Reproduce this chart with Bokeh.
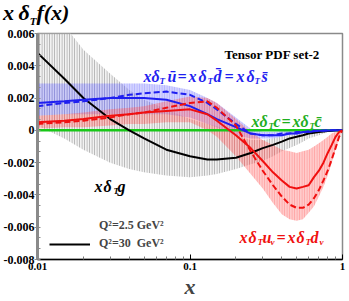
import numpy as np
from bokeh.plotting import figure
from bokeh.layouts import column
from bokeh.models import Label, Legend, LegendItem, FixedTicker, NumeralTickFormatter, Range1d, Div
from bokeh.embed import file_html
from bokeh.resources import INLINE

# ---- data ----
x = [0.01, 0.015, 0.02, 0.03, 0.04, 0.05, 0.07, 0.1, 0.13, 0.15, 0.2, 0.25, 0.3, 0.35,
     0.4, 0.45, 0.5, 0.55, 0.6, 0.65, 0.7, 0.75, 0.8, 0.85, 0.9, 0.95, 1.0]

gluon_30 = [0.0048, 0.0032, 0.0020, 0.0007, 0.0, -0.0005, -0.0012, -0.0016, -0.0018, -0.0018,
            -0.0017, -0.0014, -0.0011, -0.0009, -0.0007, -0.0005, -0.0004, -0.0003, -0.0002,
            -0.00015, -0.0001, -0.00007, -0.00004, -0.00002, 0.0, 0.0, 0.0]
gluon_hi = [0.0095, 0.0065, 0.0050, 0.0035, 0.0025, 0.0019, 0.0013, 0.0007, 0.0004, 0.00025,
            -0.0003, -0.0006, -0.0006, -0.0005, -0.0004, -0.0003, -0.0002, -0.00015, -0.0001,
            -0.00007, -0.00005, -0.00003, -0.00002, -0.00001, 0.0, 0.0, 0.0]
gluon_lo = [0.0003, -0.0005, -0.0012, -0.0020, -0.0024, -0.0026, -0.0028, -0.0029, -0.0028,
            -0.0027, -0.0024, -0.0021, -0.0019, -0.0016, -0.0013, -0.0011, -0.0009, -0.0007,
            -0.0005, -0.0004, -0.0003, -0.0002, -0.0001, -0.00005, 0.0, 0.0, 0.0]

sea_30 = [0.0017, 0.0018, 0.0019, 0.0020, 0.0020, 0.0020, 0.0019, 0.0015, 0.0010, 0.0007,
          0.0002, -0.0002, -0.0003, -0.0003, -0.0003, -0.0002, -0.0002, -0.0001, -0.0001,
          -0.00005, -0.00003, -0.00002, -0.00001, 0.0, 0.0, 0.0, 0.0]
sea_25 = [0.0015, 0.0017, 0.0018, 0.0020, 0.0022, 0.0023, 0.0024, 0.0022, 0.0017, 0.0013,
          0.0004, -0.0002, -0.0003, -0.0003, -0.0002, -0.0002, -0.0001, -0.0001, -0.00005,
          -0.00003, -0.00002, -0.00001, 0.0, 0.0, 0.0, 0.0, 0.0]
sea_hi = [0.0029, 0.0029, 0.0029, 0.0029, 0.0029, 0.0029, 0.0028, 0.0025, 0.0020, 0.0017,
          0.0008, 0.0001, -0.0001, -0.0001, -0.00005, -0.00003, -0.00002, -0.00001, 0.0,
          0.0, 0.0, 0.0, 0.0, 0.0, 0.0, 0.0, 0.0]
sea_lo = [0.0009, 0.0010, 0.0010, 0.0010, 0.0010, 0.0010, 0.0010, 0.0008, 0.0004, 0.0002,
          -0.0003, -0.0005, -0.0005, -0.0005, -0.0004, -0.0003, -0.0003, -0.0002, -0.0002,
          -0.0001, -0.0001, -0.00005, -0.00003, -0.00002, 0.0, 0.0, 0.0]

val_30 = [0.0005, 0.0006, 0.0007, 0.0009, 0.0010, 0.0011, 0.0012, 0.0013, 0.0010, 0.0006,
          -0.0003, -0.0011, -0.0019, -0.0026, -0.0031, -0.0035, -0.0036, -0.0035, -0.0034,
          -0.0029, -0.0025, -0.0020, -0.0014, -0.0009, -0.0004, -0.0001, 0.0]
val_25 = [0.0004, 0.0005, 0.0006, 0.0008, 0.0010, 0.0011, 0.0014, 0.0017, 0.0018, 0.0014,
          0.0003, -0.0013, -0.0025, -0.0034, -0.0041, -0.0046, -0.0048, -0.0048, -0.0046,
          -0.0042, -0.0037, -0.0031, -0.0025, -0.0018, -0.0011, -0.0004, 0.0]
val_hi = [0.0009, 0.0010, 0.0011, 0.0013, 0.0014, 0.0015, 0.0018, 0.0021, 0.0020, 0.0017,
          0.0007, -0.0001, -0.0006, -0.0009, -0.0012, -0.0013, -0.0014, -0.0013, -0.0012,
          -0.0010, -0.0008, -0.0006, -0.0004, -0.0002, -0.0001, 0.0, 0.0]
val_lo = [0.0001, 0.0002, 0.0002, 0.0003, 0.0004, 0.0004, 0.0005, 0.0005, 0.0000, -0.0004,
          -0.0016, -0.0027, -0.0036, -0.0045, -0.0052, -0.0055, -0.0056, -0.0055, -0.0051,
          -0.0047, -0.0041, -0.0035, -0.0028, -0.0020, -0.0012, -0.0005, 0.0]

charm_30 = [0.0] * len(x)

y_ticks = [-0.008, -0.006, -0.004, -0.002, 0.0, 0.002, 0.004, 0.006]
x_ticks = [0.01, 0.1, 1.0]
x_minor = [0.02, 0.03, 0.04, 0.05, 0.06, 0.07, 0.08, 0.09, 0.2, 0.3, 0.4, 0.5, 0.6, 0.7, 0.8, 0.9]

legend_labels = ["Q²=2.5 GeV²", "Q²=30  GeV²"]

# ---- figure ----
FONT = "Liberation Serif"
BLUE = "#1f1ff0"
RED = "#f01010"
GREEN = "#18c818"

TITLE_H = 26
title = Div(text='<i>x</i>&thinsp;δ<sub style="font-size:11px;">T</sub><i>f</i>(<i>x</i>)',
            width=120, height=TITLE_H, margin=(0, 0, 0, 0),
            styles={"font-family": FONT, "font-size": "22px", "font-weight": "bold",
                    "font-style": "italic", "line-height": f"{TITLE_H}px", "color": "black",
                    "white-space": "nowrap", "padding-left": "3px"})

p = figure(x_axis_type="log", output_backend="svg", toolbar_location=None,
           width=349, height=275,
           min_border_left=35, min_border_right=7, min_border_top=7, min_border_bottom=42,
           x_range=Range1d(0.01, 1.0), y_range=Range1d(-0.008, 0.006), margin=(0, 0, 0, 0))
p.grid.visible = False
p.background_fill_color = "white"
p.border_fill_color = "white"
p.outline_line_color = "#8a8a8a"
p.outline_line_width = 1.5

# bands
p.varea(x=x, y1=gluon_lo, y2=gluon_hi, fill_color="#e6e6e6", fill_alpha=0.5,
        hatch_pattern="vertical_line", hatch_color="#9a9a9a", hatch_alpha=0.8,
        hatch_scale=2.5, hatch_weight=1)
p.varea(x=x, y1=sea_lo, y2=sea_hi, fill_color="#7a7aff", fill_alpha=0.33,
        hatch_pattern="vertical_line", hatch_color="#6060ff", hatch_alpha=0.3,
        hatch_scale=2.5, hatch_weight=1)
p.varea(x=x, y1=val_lo, y2=val_hi, fill_color="#ff6a6a", fill_alpha=0.35,
        hatch_pattern="vertical_line", hatch_color="#ff4040", hatch_alpha=0.3,
        hatch_scale=2.5, hatch_weight=1)

# lines
p.line(x, charm_30, line_color=GREEN, line_width=2.5)
glu = p.line(x, gluon_30, line_color="black", line_width=2)
p.line(x, sea_25, line_color=BLUE, line_width=2, line_dash="6 3")
p.line(x, sea_30, line_color=BLUE, line_width=2)
p.line(x, val_25, line_color=RED, line_width=2, line_dash="6 3")
p.line(x, val_30, line_color=RED, line_width=2)
dummy = p.line(x=[], y=[], line_color="black", line_width=2, line_dash="6 3")

legend = Legend(items=[LegendItem(label=legend_labels[0], renderers=[dummy]),
                       LegendItem(label=legend_labels[1], renderers=[glu])],
                location=(12, 8), orientation="vertical",
                label_text_font=FONT, label_text_font_size="12px", label_text_font_style="bold",
                glyph_width=41, glyph_height=12, label_height=12, spacing=3,
                padding=0, margin=0, label_standoff=9,
                border_line_alpha=0, background_fill_alpha=0)
p.add_layout(legend)

# axes
p.yaxis.ticker = FixedTicker(ticks=y_ticks, minor_ticks=list(np.arange(-0.008, 0.0061, 0.002 / 3)))
p.yaxis.formatter = NumeralTickFormatter(format="0.[000]")
p.yaxis.axis_line_color = "#8a8a8a"
p.yaxis.axis_line_width = 3
p.yaxis.major_tick_line_color = "#8a8a8a"
p.yaxis.minor_tick_line_color = "#8a8a8a"
p.yaxis.major_tick_out = 3
p.yaxis.major_tick_in = 0
p.yaxis.minor_tick_in = 3
p.yaxis.minor_tick_out = 0
p.yaxis.major_label_standoff = 0
p.yaxis.major_label_text_font_size = "12px"

p.xaxis.ticker = FixedTicker(ticks=x_ticks, minor_ticks=x_minor)
p.xaxis.formatter = NumeralTickFormatter(format="0.[00]")
p.xaxis.axis_line_color = "black"
p.xaxis.axis_line_width = 1.5
p.xaxis.major_tick_in = 5
p.xaxis.major_tick_out = 0
p.xaxis.minor_tick_in = 3
p.xaxis.minor_tick_out = 0
p.xaxis.minor_tick_line_color = "#777777"
p.xaxis.major_label_standoff = 3
p.xaxis.major_label_text_font_size = "11px"
p.xaxis.axis_label = "x"
p.xaxis.axis_label_text_font = FONT
p.xaxis.axis_label_text_font_size = "22px"
p.xaxis.axis_label_text_font_style = "bold italic"
p.xaxis.axis_label_standoff = 1

for ax in (p.xaxis, p.yaxis):
    ax.major_label_text_font = FONT
    ax.major_label_text_font_style = "bold"
    ax.major_label_text_color = "black"

# ---- text inside the frame ----
FL, FB = 35, 259  # page coordinates of frame left / bottom


def put(txt, wx, wy, size, color="black", style="bold italic"):
    p.add_layout(Label(x=wx - FL, y=FB - wy, x_units="screen", y_units="screen",
                       text=txt, text_font=FONT, text_font_size=f"{size}px",
                       text_font_style=style, text_color=color,
                       text_baseline="alphabetic", text_align="left"))


def seq(parts, base, size, sub, color):
    for txt, wx, is_sub in parts:
        if is_sub:
            put(txt, wx, base + 4, sub, color)
        else:
            put(txt, wx, base, size, color)


put("Tensor PDF set-2", 222, 54, 13, "black", "bold")

seq([("x", 141, False), ("δ", 149, False), ("T", 157, True), ("ū", 165, False),
     ("=", 175, False), ("x", 186, False), ("δ", 196, False), ("T", 205, True),
     ("d\u0304", 211, False), ("=", 222, False), ("x", 234, False), ("δ", 244, False),
     ("T", 252, True), ("s\u0304", 259, False)], 76, 16, 9, BLUE)

seq([("x", 249, False), ("δ", 257, False), ("T", 266, True), ("c", 271, False),
     ("=", 279, False), ("x", 290, False), ("δ", 298, False), ("T", 307, True),
     ("c\u0304", 312, False)], 121, 16, 9, "#1fae1f")

seq([("x", 92, False), ("δ", 101, False), ("T", 111, True), ("g", 115, False)], 186, 16, 9, "black")

seq([("x", 237, False), ("δ", 246, False), ("T", 255, True), ("u", 260, False),
     ("v", 268, True), ("=", 274, False), ("x", 285, False), ("δ", 294, False),
     ("T", 303, True), ("d", 308, False), ("v", 317, True)], 237, 16, 9, RED)

layout = column(title, p, spacing=0)
open("out.html", "w").write(file_html(layout, INLINE))
